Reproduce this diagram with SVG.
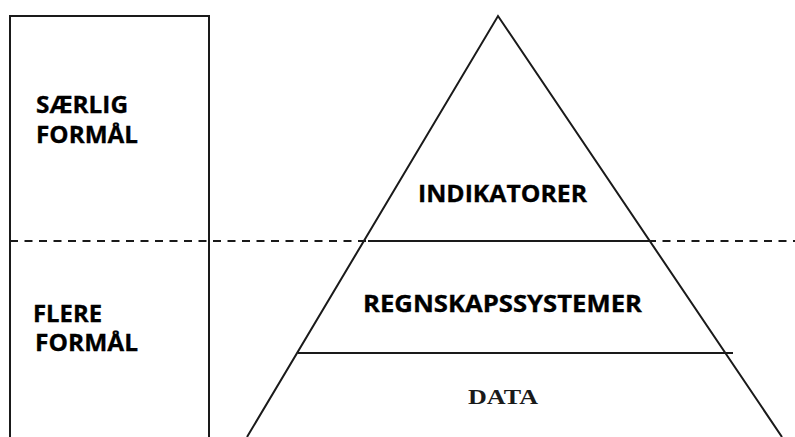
<svg xmlns="http://www.w3.org/2000/svg" width="795" height="437" viewBox="0 0 795 437">
<style>
.ln{stroke:#1a1a1a;stroke-width:2;fill:none}
.lb{font-family:"Open Sans","Liberation Sans",sans-serif;font-weight:bold;font-size:22.5px;fill:#000;stroke:#000;stroke-width:0.3}
.sf{font-family:"Liberation Serif","Times New Roman",serif;font-weight:bold;font-size:21px;fill:#1a1a1a}
</style>
<rect width="795" height="437" fill="#fff"/>
<g id="purpose-column">
<path class="ln" d="M10,440 V16 H209 V440"/>
<text class="lb" x="36" y="113" textLength="92" lengthAdjust="spacingAndGlyphs">SÆRLIG</text>
<text class="lb" x="36" y="143" textLength="102" lengthAdjust="spacingAndGlyphs">FORMÅL</text>
<text class="lb" x="33" y="322" textLength="69" lengthAdjust="spacingAndGlyphs">FLERE</text>
<text class="lb" x="35" y="351" textLength="103" lengthAdjust="spacingAndGlyphs">FORMÅL</text>
</g>
<g id="connectors">
<line x1="10" y1="241" x2="795" y2="241" stroke="#1a1a1a" stroke-width="2" stroke-dasharray="8 6.5"/>
</g>
<g id="pyramid">
<path class="ln" d="M247,437 L498,16 L782,437"/>
<line class="ln" x1="368" y1="241" x2="648" y2="241"/>
<line class="ln" x1="298" y1="353" x2="733" y2="353"/>
</g>
<g id="indikatorer">
<text class="lb" x="418" y="202" textLength="169" lengthAdjust="spacingAndGlyphs">INDIKATORER</text>
</g>
<g id="regnskapssystemer">
<text class="lb" x="363" y="312" textLength="279" lengthAdjust="spacingAndGlyphs">REGNSKAPSSYSTEMER</text>
</g>
<g id="data">
<text class="sf" x="468" y="404" textLength="70" lengthAdjust="spacingAndGlyphs">DATA</text>
</g>
</svg>
